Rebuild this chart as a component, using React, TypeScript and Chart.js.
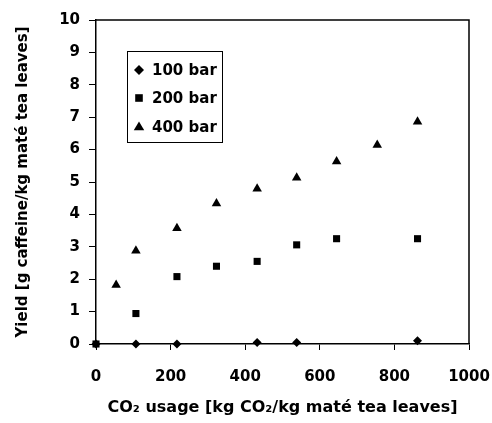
import React, { useEffect, useRef } from "react";
import { Chart, registerables } from "chart.js";

Chart.register(...registerables);

// CO2 usage [kg CO2/kg maté tea leaves] for each extraction run
const usage100 = [0, 107, 217, 432, 538, 862];
const yield100 = [0, 0, 0, 0.05, 0.05, 0.1];

const usage200 = [0, 107, 217, 323, 432, 538, 645, 862];
const yield200 = [0, 0.94, 2.08, 2.4, 2.55, 3.06, 3.25, 3.25];

const usage400 = [54, 107, 217, 323, 432, 538, 645, 754, 862];
const yield400 = [1.82, 2.88, 3.57, 4.34, 4.79, 5.13, 5.63, 6.14, 6.86];

const seriesLabels = ["100 bar", "200 bar", "400 bar"];
const pointStyles = ["rectRot", "rect", "triangle"] as const;
const pointRadii = [4.5, 5, 5.5];

const xTitle = "CO\u2082 usage [kg CO\u2082/kg maté tea leaves]";
const yTitle = "Yield [g caffeine/kg maté tea leaves]";

const FONT = "'DejaVu Sans', 'Liberation Sans', Arial, sans-serif";

const toPoints = (xs: number[], ys: number[]) => xs.map((x, i) => ({ x, y: ys[i] }));

// Keep tick labels from pushing the plot area inwards
const noOverhang = (scale: any) => {
  scale.paddingLeft = 0;
  scale.paddingRight = 0;
  scale.paddingTop = 0;
  scale.paddingBottom = 0;
};

// Frame on the top and right sides of the plot plus the boxed legend
const framePlugin = {
  id: "frameAndLegend",
  afterDraw(chart: any) {
    const { ctx, chartArea } = chart;
    ctx.save();
    ctx.strokeStyle = "#000";
    ctx.lineWidth = 1.5;
    ctx.beginPath();
    ctx.moveTo(chartArea.left, chartArea.top);
    ctx.lineTo(chartArea.right, chartArea.top);
    ctx.lineTo(chartArea.right, chartArea.bottom);
    ctx.stroke();

    // legend box
    const bx = chartArea.left + 31;
    const by = chartArea.top + 31;
    const bw = 95;
    const bh = 91;
    ctx.fillStyle = "#fff";
    ctx.fillRect(bx, by, bw, bh);
    ctx.lineWidth = 1;
    ctx.strokeRect(bx + 0.5, by + 0.5, bw, bh);

    const rowY = [by + 19, by + 47, by + 76];
    ctx.font = `bold 15px ${FONT}`;
    ctx.textBaseline = "middle";
    ctx.textAlign = "left";
    ctx.fillStyle = "#000";
    seriesLabels.forEach((label, i) => {
      const mx = bx + 12;
      const my = rowY[i];
      ctx.beginPath();
      if (pointStyles[i] === "rectRot") {
        const r = 5;
        ctx.moveTo(mx - r, my);
        ctx.lineTo(mx, my - r);
        ctx.lineTo(mx + r, my);
        ctx.lineTo(mx, my + r);
      } else if (pointStyles[i] === "rect") {
        const s = 3.8;
        ctx.rect(mx - s, my - s, 2 * s, 2 * s);
      } else {
        const r = 5.5;
        ctx.moveTo(mx, my - r);
        ctx.lineTo(mx + r * 0.95, my + r * 0.6);
        ctx.lineTo(mx - r * 0.95, my + r * 0.6);
      }
      ctx.closePath();
      ctx.fill();
      ctx.fillText(label, bx + 25, my + 1);
    });
    ctx.restore();
  },
};

export default function App() {
  const canvasRef = useRef<HTMLCanvasElement | null>(null);

  useEffect(() => {
    document.body.style.margin = "0";
    const canvas = canvasRef.current;
    if (!canvas) return;

    const datasets = [
      toPoints(usage100, yield100),
      toPoints(usage200, yield200),
      toPoints(usage400, yield400),
    ].map((data, i) => ({
      label: seriesLabels[i],
      data,
      pointStyle: pointStyles[i],
      pointRadius: pointRadii[i],
      pointHoverRadius: pointRadii[i],
      pointBackgroundColor: "#000",
      pointBorderColor: "#000",
      pointBorderWidth: 0,
      showLine: false,
      clip: false as const,
    }));

    const chart = new Chart(canvas, {
      type: "scatter",
      data: { datasets },
      options: {
        animation: false,
        responsive: false,
        maintainAspectRatio: false,
        layout: { padding: { left: 0, top: 20, right: 23, bottom: 0 } },
        plugins: {
          legend: { display: false },
          tooltip: { enabled: false },
        },
        scales: {
          x: {
            type: "linear",
            min: 0,
            max: 1000,
            afterFit: (scale: any) => {
              scale.height = 79;
              noOverhang(scale);
            },
            ticks: {
              stepSize: 200,
              padding: 18,
              color: "#000",
              font: { family: FONT, size: 15, weight: "bold" },
              callback: (v: any) => String(v),
            },
            grid: {
              drawOnChartArea: false,
              drawTicks: true,
              tickLength: 6,
              color: "#000",
              lineWidth: 1,
            },
            border: { display: true, color: "#000", width: 1.5 },
            title: {
              display: true,
              text: xTitle,
              color: "#000",
              font: { family: FONT, size: 16, weight: "bold" },
              padding: { top: 0, bottom: 6 },
            },
          },
          y: {
            type: "linear",
            min: 0,
            max: 10,
            afterFit: (scale: any) => {
              scale.width = 96;
              noOverhang(scale);
            },
            ticks: {
              stepSize: 1,
              padding: 9,
              color: "#000",
              font: { family: FONT, size: 15, weight: "bold" },
              callback: (v: any) => String(v),
            },
            grid: {
              drawOnChartArea: false,
              drawTicks: true,
              tickLength: 7,
              color: "#000",
              lineWidth: 1,
            },
            border: { display: true, color: "#000", width: 1.5 },
            title: {
              display: true,
              text: yTitle,
              color: "#000",
              font: { family: FONT, size: 15, weight: "bold" },
              padding: { top: 14, bottom: 0 },
            },
          },
        },
      },
      plugins: [framePlugin],
    });

    return () => chart.destroy();
  }, []);

  return (
    <div style={{ width: 492, height: 423, background: "#fff" }}>
      <canvas ref={canvasRef} width={492} height={423} />
    </div>
  );
}
